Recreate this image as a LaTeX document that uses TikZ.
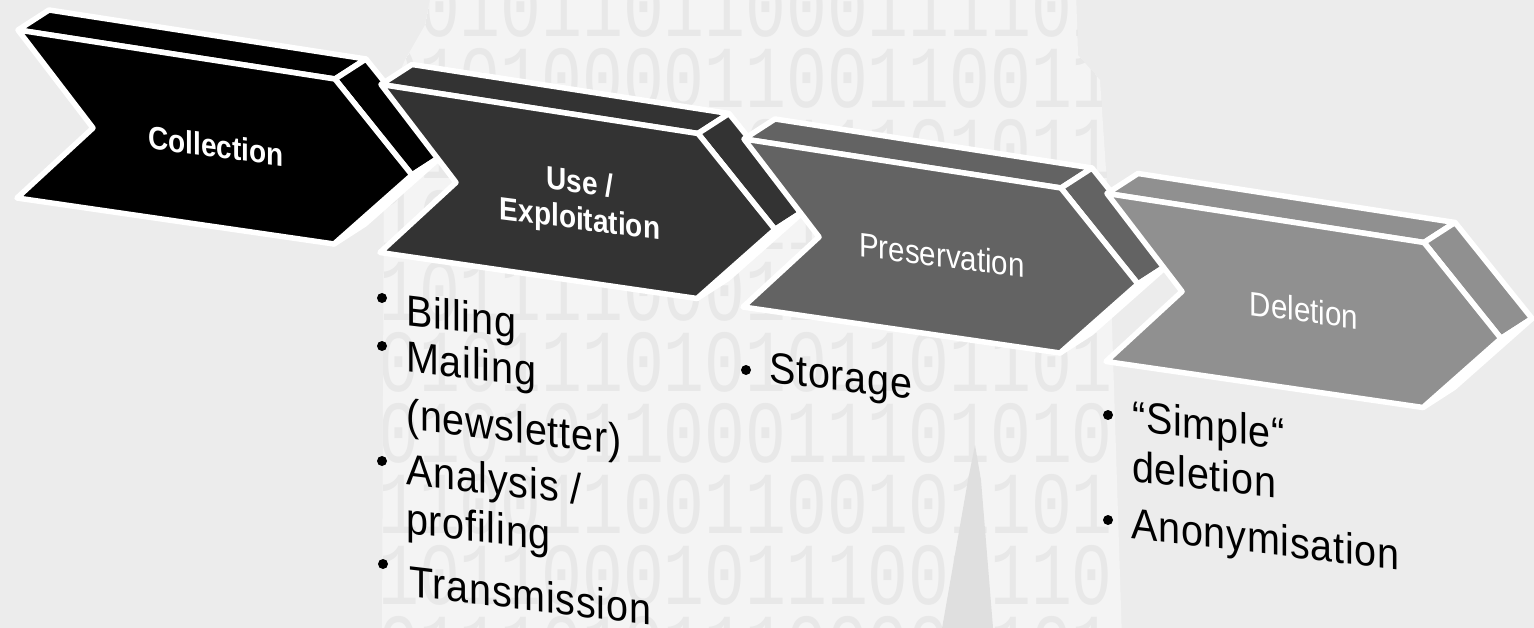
\documentclass[tikz,border=0pt]{standalone}
\usepackage{fontspec}
\setmainfont{Liberation Sans}
\newfontfamily\itemfamily{Liberation Sans}[LetterSpace=2.0]
\newfontfamily\binfamily{Liberation Mono}

\definecolor{paper}{HTML}{ECECEC}
\definecolor{tower}{HTML}{F4F4F4}
\definecolor{bindigit}{HTML}{E8E8E8}
\definecolor{spirecol}{HTML}{DFDFDF}
\definecolor{stepA}{HTML}{000000}
\definecolor{stepB}{HTML}{333333}
\definecolor{stepC}{HTML}{636363}
\definecolor{stepD}{HTML}{909090}

\newcommand\itemsize{\itemfamily\fontsize{39.5}{40}\selectfont}
\newcommand\binsize{\binfamily\fontsize{68}{68}\selectfont}

% one extruded chevron: top face, two right faces, then the front face
\newcommand\chevronat[3]{%
  \begin{scope}[shift={(#1,#2)}]
    \filldraw[chevface=#3] (18,30) -- (335,79) -- (366,59) -- (49,10) -- cycle;
    \filldraw[chevface=#3] (335,79) -- (412,175) -- (443,155) -- (366,59) -- cycle;
    \filldraw[chevface=#3] (412,175) -- (334,244) -- (365,224) -- (443,155) -- cycle;
    \filldraw[chevface=#3] (18,30) -- (335,79) -- (412,175) -- (334,244)
      -- (17,198) -- (93,128) -- cycle;
  \end{scope}}

\tikzset{
  chevface/.style={fill=#1, draw=white, line width=5.5pt, line join=round},
  steplabel/.style={text=white, inner sep=0pt, yslant=-0.13, yscale=1.15},
  boldlabel/.style={steplabel, font=\fontsize{28}{32}\selectfont\bfseries},
  plainlabel/.style={steplabel, font=\fontsize{29.5}{32}\selectfont},
  itemtext/.style={anchor=base west, inner sep=0pt, font=\itemsize, text=black,
    yslant=-0.12, yscale=1.1},
  dot/.style={circle, fill=black, inner sep=0pt, minimum size=10pt},
  binrow/.style={anchor=west, inner sep=0pt, font=\binsize, text=bindigit, yscale=1.3},
}

\begin{document}
\begin{tikzpicture}[x=1pt,y=-1pt]
  \useasboundingbox (0,0) rectangle (1534,628);
  \fill[paper] (0,0) rectangle (1534,628);

  % pale building silhouette with binary digits
  \begin{scope}
    \clip (382,640) -- (384,150) -- (392,90) -- (405,60) -- (425,25) -- (432,-10)
      -- (1076,-10) -- (1078,55) -- (1100,80) -- (1108,200) -- (1122,640) -- cycle;
    \fill[tower] (0,-10) rectangle (1534,640);
    \node[binrow] (r1) at (378,7)   {101011011000111101};
    \node[binrow] (r2) at (378,78)  {010100001100110011};
    \node[binrow] (r3) at (378,149) {011011101011101011};
    \node[binrow] (r4) at (378,220) {100110100111010010};
    \node[binrow] (r5) at (378,291) {101111000110101101};
    \node[binrow] (r6) at (378,362) {010111010101101101};
    \node[binrow] (r7) at (378,433) {010101100011101010};
    \node[binrow] (r8) at (378,504) {110011001100101101};
    \node[binrow] (r9) at (378,575) {101100010111001110};
    \node[binrow] (r10) at (378,646) {011101011100001101};
    \fill[spirecol] (975,445) -- (981,480) -- (994,640) -- (940,640) -- (968,480) -- cycle;
  \end{scope}

  % the four process steps
  \chevronat{0}{0}{stepA}
  \chevronat{363}{54.5}{stepB}
  \chevronat{726}{109}{stepC}
  \chevronat{1089}{163.5}{stepD}

  \node[boldlabel] (collect) at (216,146) {Collection};
  \node[boldlabel, align=center] (use) at (580,203) {Use /\\Exploitation};
  \node[plainlabel] (keep) at (942,255) {Preservation};
  \node[plainlabel] (erase) at (1304,310) {Deletion};

  % activities of the use step
  \node[dot] (d1) at (382,298) {};
  \node[itemtext] (i1) at (406,325) {Billing};
  \node[dot] (d2) at (382,346) {};
  \node[itemtext] (i2) at (406,371) {Mailing};
  \node[itemtext] (i3) at (406,429) {(newsletter)};
  \node[dot] (d3) at (382,461) {};
  \node[itemtext] (i4) at (406,484) {Analysis /};
  \node[itemtext] (i5) at (406,533) {profiling};
  \node[dot] (d4) at (383,564) {};
  \node[itemtext] (i6) at (409,596) {Transmission};

  % activities of the preservation step
  \node[dot] (d5) at (746,370) {};
  \node[itemtext] (i7) at (769,382) {Storage};

  % activities of the deletion step
  \node[dot] (d6) at (1108,415) {};
  \node[itemtext] (i8) at (1132,431) {“Simple“};
  \node[itemtext] (i9) at (1132,481) {deletion};
  \node[dot] (d7) at (1108,520) {};
  \node[itemtext] (i10) at (1131,538) {Anonymisation};
\end{tikzpicture}
\end{document}
